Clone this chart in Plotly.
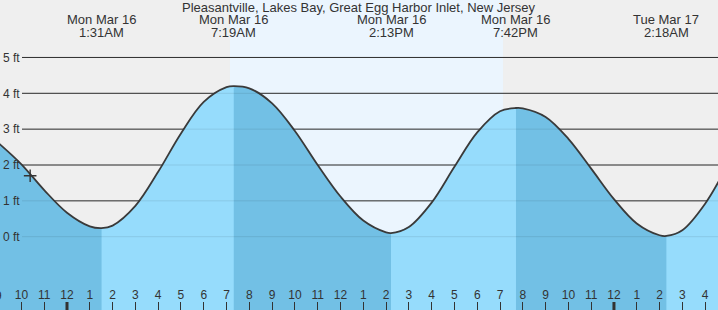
import plotly.graph_objects as go
import pandas as pd

# ---------------- data ----------------
TITLE = "Pleasantville, Lakes Bay, Great Egg Harbor Inlet, New Jersey"

TIDE_TIMES = [
    "2026-03-15 21:00", "2026-03-15 22:00", "2026-03-15 23:00",
    "2026-03-16 00:00", "2026-03-16 01:00", "2026-03-16 01:31", "2026-03-16 02:00",
    "2026-03-16 03:00", "2026-03-16 04:00", "2026-03-16 05:00", "2026-03-16 06:00",
    "2026-03-16 07:00", "2026-03-16 07:19", "2026-03-16 08:00", "2026-03-16 09:00",
    "2026-03-16 10:00", "2026-03-16 11:00", "2026-03-16 12:00", "2026-03-16 13:00",
    "2026-03-16 14:00", "2026-03-16 14:13", "2026-03-16 15:00", "2026-03-16 16:00",
    "2026-03-16 17:00", "2026-03-16 18:00", "2026-03-16 19:00", "2026-03-16 19:42",
    "2026-03-16 20:00", "2026-03-16 21:00", "2026-03-16 22:00", "2026-03-16 23:00",
    "2026-03-17 00:00", "2026-03-17 01:00", "2026-03-17 02:00", "2026-03-17 02:18",
    "2026-03-17 03:00", "2026-03-17 04:00", "2026-03-17 05:00",
]
TIDE_FT = [
    2.61, 2.02, 1.30,
    0.67, 0.29, 0.24, 0.31,
    0.86, 1.81, 2.88, 3.76,
    4.17, 4.20, 4.14, 3.72,
    2.95, 2.00, 1.12, 0.45,
    0.12, 0.10, 0.27, 0.95,
    1.95, 2.91, 3.50, 3.59,
    3.58, 3.34, 2.73, 1.90,
    1.05, 0.37, 0.04, 0.02,
    0.18, 0.92, 2.02,
]

EXTREME_TIMES = ["2026-03-16 01:31", "2026-03-16 07:19", "2026-03-16 14:13",
                 "2026-03-16 19:42", "2026-03-17 02:18"]
EXTREME_TYPES = ["low", "high", "low", "high", "low"]
EXTREME_DAY_LABELS = ["Mon Mar 16", "Mon Mar 16", "Mon Mar 16", "Mon Mar 16", "Tue Mar 17"]
EXTREME_TIME_LABELS = ["1:31AM", "7:19AM", "2:13PM", "7:42PM", "2:18AM"]

SUNRISE = "2026-03-16 07:09"
SUNSET = "2026-03-16 19:08"

NOW_TIME = ["2026-03-15 22:23"]
NOW_FT = [1.70]

Y_TICKS = [0, 1, 2, 3, 4, 5]
Y_TICK_LABELS = ["0 ft", "1 ft", "2 ft", "3 ft", "4 ft", "5 ft"]

HOUR_TICKS = ["2026-03-15 21:00", "2026-03-15 22:00", "2026-03-15 23:00", "2026-03-16 00:00",
              "2026-03-16 01:00", "2026-03-16 02:00", "2026-03-16 03:00",
              "2026-03-16 04:00", "2026-03-16 05:00", "2026-03-16 06:00",
              "2026-03-16 07:00", "2026-03-16 08:00", "2026-03-16 09:00",
              "2026-03-16 10:00", "2026-03-16 11:00", "2026-03-16 12:00",
              "2026-03-16 13:00", "2026-03-16 14:00", "2026-03-16 15:00",
              "2026-03-16 16:00", "2026-03-16 17:00", "2026-03-16 18:00",
              "2026-03-16 19:00", "2026-03-16 20:00", "2026-03-16 21:00",
              "2026-03-16 22:00", "2026-03-16 23:00", "2026-03-17 00:00",
              "2026-03-17 01:00", "2026-03-17 02:00", "2026-03-17 03:00",
              "2026-03-17 04:00"]
HOUR_LABELS = ["9", "10", "11", "12", "1", "2", "3", "4", "5", "6", "7", "8", "9",
               "10", "11", "12", "1", "2", "3", "4", "5", "6", "7", "8", "9",
               "10", "11", "12", "1", "2", "3", "4"]
MIDNIGHTS = ["2026-03-16 00:00", "2026-03-17 00:00"]

# ---------------- styling ----------------
W, H = 718, 310
X_RANGE = ["2026-03-15 21:03:36", "2026-03-17 04:33:54"]
Y_RANGE = [-2.045, 6.603]
FILL_BOTTOM = -3.0
NIGHT_BG = "#EFEFEF"
DAY_BG = "#EBF5FE"
FALLING_FILL = "#72C0E5"
RISING_FILL = "#96DCFC"
INK = "#333333"
FONT = "Liberation Sans, Arial, sans-serif"

t = pd.to_datetime(pd.Series(TIDE_TIMES))
h = pd.Series(TIDE_FT)
ext_t = pd.to_datetime(pd.Series(EXTREME_TIMES))
xr0, xr1 = pd.to_datetime(X_RANGE[0]), pd.to_datetime(X_RANGE[1])

fig = go.Figure()

# bands between tide extremes (falling = darker, rising = lighter)
bounds = [t.iloc[0]] + list(ext_t) + [t.iloc[-1]]
for i in range(len(bounds) - 1):
    start, end = bounds[i], bounds[i + 1]
    if i < len(EXTREME_TYPES):
        falling = EXTREME_TYPES[i] == "low"
    else:
        falling = EXTREME_TYPES[-1] == "high"
    idx = [k for k in range(len(t)) if start <= t.iloc[k] <= end]
    # extend one sample past the end so the next band overlaps (no seam)
    if idx[-1] + 1 < len(t):
        idx.append(idx[-1] + 1)
    bx = list(t.iloc[idx])
    by = list(h.iloc[idx])
    fig.add_trace(go.Scatter(x=[bx[0], bx[-1]], y=[FILL_BOTTOM, FILL_BOTTOM],
                             mode="lines", line=dict(width=0), hoverinfo="skip"))
    fig.add_trace(go.Scatter(
        x=bx, y=by, mode="lines", fill="tonexty",
        fillcolor=FALLING_FILL if falling else RISING_FILL,
        line=dict(width=0, shape="spline", smoothing=1), hoverinfo="skip"))

# tide curve outline
fig.add_trace(go.Scatter(x=t, y=h, mode="lines",
                         line=dict(color="#3a3a3a", width=1.8, shape="spline", smoothing=1),
                         hoverinfo="skip"))

# current-time marker
fig.add_trace(go.Scatter(x=pd.to_datetime(pd.Series(NOW_TIME)), y=NOW_FT, mode="markers",
                         marker=dict(symbol="cross-thin", size=9,
                                     line=dict(color=INK, width=1.4)),
                         hoverinfo="skip"))

shapes = []
# daylight background
shapes.append(dict(type="rect", xref="x", yref="paper", x0=SUNRISE, x1=SUNSET,
                   y0=0, y1=1, fillcolor=DAY_BG, line=dict(width=0), layer="below"))
# gridlines (under the fill, then a faint copy on top to show through the fill)
for yv in Y_TICKS:
    shapes.append(dict(type="line", xref="paper", yref="y", x0=22 / W, x1=1,
                       y0=yv, y1=yv, line=dict(color=INK, width=1), layer="below"))
for yv in Y_TICKS:
    shapes.append(dict(type="line", xref="paper", yref="y", x0=22 / W, x1=1,
                       y0=yv, y1=yv, line=dict(color="rgba(0,0,0,0.09)", width=1),
                       layer="above"))
# bold midnight ticks
for m in MIDNIGHTS:
    shapes.append(dict(type="line", xref="x", yref="paper", x0=m, x1=m,
                       y0=0, y1=8 / H, line=dict(color=INK, width=3), layer="above"))

annotations = [dict(text=TITLE, xref="paper", yref="paper", x=0.5, y=1 - 7.5 / H,
                    xanchor="center", yanchor="middle", showarrow=False,
                    font=dict(family=FONT, size=13, color=INK))]
for et, dl, tl in zip(EXTREME_TIMES, EXTREME_DAY_LABELS, EXTREME_TIME_LABELS):
    annotations.append(dict(text=dl, xref="x", yref="paper", x=et, y=1 - 19.5 / H,
                            xanchor="center", yanchor="middle", showarrow=False,
                            font=dict(family=FONT, size=13, color=INK)))
    annotations.append(dict(text=tl, xref="x", yref="paper", x=et, y=1 - 32.5 / H,
                            xanchor="center", yanchor="middle", showarrow=False,
                            font=dict(family=FONT, size=13, color=INK)))
# hour labels whose tick lies just outside the visible range (partly cut off)
span = (xr1 - xr0).total_seconds()
for tv, tl in zip(HOUR_TICKS, HOUR_LABELS):
    tt = pd.to_datetime(tv)
    if tt < xr0 or tt > xr1:
        annotations.append(dict(text=tl, xref="paper", yref="paper",
                                x=(tt - xr0).total_seconds() / span, y=14.2 / H,
                                xanchor="center", yanchor="middle", showarrow=False,
                                font=dict(family=FONT, size=12, color=INK)))

fig.update_layout(
    width=W, height=H, margin=dict(l=0, r=0, t=0, b=0, pad=0),
    paper_bgcolor=NIGHT_BG, plot_bgcolor=NIGHT_BG,
    showlegend=False, shapes=shapes, annotations=annotations,
    font=dict(family=FONT, size=12, color=INK),
    xaxis=dict(type="date", range=X_RANGE, tickvals=HOUR_TICKS, ticktext=HOUR_LABELS,
               ticks="inside", ticklen=8, tickwidth=1, tickcolor=INK,
               ticklabelposition="inside", showgrid=False, zeroline=False,
               showline=False, tickfont=dict(family=FONT, size=12, color=INK)),
    yaxis=dict(range=Y_RANGE, tickvals=Y_TICKS, ticktext=Y_TICK_LABELS, ticks="",
               ticklabelposition="inside", showgrid=False, zeroline=False,
               showline=False, tickfont=dict(family=FONT, size=12, color=INK)),
)

fig.write_html("out.html")
